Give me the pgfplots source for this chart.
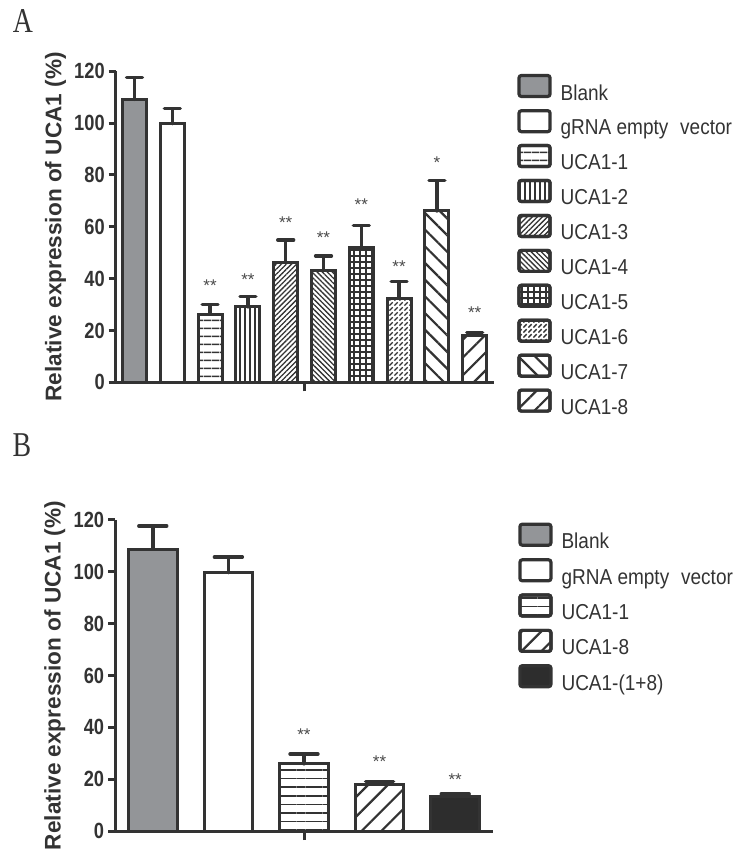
\documentclass[border=0pt]{standalone}
\usepackage{pgfplots}
\pgfplotsset{compat=1.18}
\usetikzlibrary{patterns.meta}
\usepackage{fontspec}
\setmainfont{Liberation Sans}
\newfontfamily\legfont{Liberation Sans}[FakeStretch=0.88]
\newfontfamily\tickfont{Liberation Sans}[FakeStretch=0.83]
\newfontfamily\panelfont{Liberation Serif}[FakeStretch=0.8]
\definecolor{barc}{HTML}{333333}
\definecolor{blankfill}{HTML}{939598}
\definecolor{darkfill}{HTML}{2D2D2D}
\definecolor{starc}{HTML}{4A4A4A}
\tikzdeclarepattern{
  name=brokenNE, type=uncolored,
  bottom left={(0pt,0pt)}, top right={(2.4pt,2.4pt)},
  tile size={(2.4pt,2.4pt)},
  code={
    \draw[line width=0.7pt] (0.2pt,0.2pt) -- (1.9pt,1.9pt);
  }
}
\pgfplotsset{
 prismaxis/.style={
  scale only axis, width=189pt, height=155.5pt,
  ymin=0, ymax=120, ytick={0,20,...,120},
  axis x line=bottom, axis y line=left,
  axis line style={-, line width=1.5pt, draw=barc},
  tick align=outside, tick style={line width=1.5pt, draw=barc},
  ytick style={/pgfplots/major tick length=3.5pt},
  xtick style={/pgfplots/major tick length=4.5pt},
  /pgf/number format/assume math mode=true,
  yticklabel style={font=\fontsize{11pt}{12pt}\tickfont\bfseries, text=barc, inner sep=1pt},
  ylabel={Relative expression of UCA1 (\%)},
  ylabel style={at={(axis description cs:-0.159,0.5)}, anchor=center, font=\fontsize{11.3pt}{13pt}\selectfont\bfseries, text=barc},
  clip=false,
  legend cell align=left,
  legend style={draw=none, fill=none, inner sep=0pt, font=\fontsize{10.8pt}{13pt}\legfont, text=barc, nodes={inner sep=0pt}, /tikz/every odd column/.append style={column sep=4.5pt}},
 },
 barst/.style={ybar, bar shift=0pt, draw=barc, line width=1.5pt,
   legend image code/.code={\draw[##1, line width=1.6pt, rounded corners=1.2pt] (0pt,-1.35pt) rectangle (15.5pt,9.15pt);}},
 errline/.style={forget plot, draw=barc, line width=1.7pt, mark=none, line cap=round, line join=round},
 stars/.style={forget plot, draw=none, mark=none, nodes near coords, point meta=explicit symbolic,
   nodes near coords align={center},
   every node near coord/.append style={anchor=center, font=\fontsize{8.5pt}{9pt}\selectfont, text=starc}},
}
\begin{document}
\begin{tikzpicture}
\useasboundingbox (0,0) rectangle (368pt,428pt);
\node[font=\fontsize{17.4pt}{19pt}\panelfont, text=barc] at (11.5pt,417.25pt) {A};
\node[font=\fontsize{17.4pt}{19pt}\panelfont, text=barc] at (11pt,205.25pt) {B};
% Panel A
\begin{axis}[prismaxis, at={(57.8pt,236.85pt)}, anchor=south west,
  xmin=0.5, xmax=10.5, xtick={5.5}, xticklabels={}, bar width=12pt,
  legend style={at={(axis description cs:1.062,0.993)}, anchor=north west, row sep=3.0pt}]
\addplot[barst, fill=blankfill] coordinates {(1,109.1)};
\addlegendentry{Blank}
\addplot[barst, fill=white] coordinates {(2,99.8)};
\addlegendentry{gRNA empty\hspace{0.55em}vector}
\addplot[barst, fill=white, postaction={pattern={Lines[angle=0,distance=4pt,line width=0.8pt]}, pattern color=barc}] coordinates {(3,26.3)};
\addlegendentry{UCA1-1}
\addplot[barst, fill=white, postaction={pattern={Lines[angle=90,distance=2.5pt,line width=0.7pt]}, pattern color=barc}] coordinates {(4,29.1)};
\addlegendentry{UCA1-2}
\addplot[barst, fill=white, postaction={pattern={Lines[angle=45,distance=1.8pt,line width=0.65pt]}, pattern color=barc}] coordinates {(5,46.1)};
\addlegendentry{UCA1-3}
\addplot[barst, fill=white, postaction={pattern={Lines[angle=-45,distance=1.8pt,line width=0.65pt]}, pattern color=barc}] coordinates {(6,43.0)};
\addlegendentry{UCA1-4}
\addplot[barst, fill=white, postaction={pattern={Hatch[angle=0,distance=3pt,line width=0.65pt]}, pattern color=barc}] coordinates {(7,52.0)};
\addlegendentry{UCA1-5}
\addplot[barst, fill=white, postaction={pattern=brokenNE, pattern color=barc}] coordinates {(8,32.4)};
\addlegendentry{UCA1-6}
\addplot[barst, fill=white, postaction={pattern={Lines[angle=-45,distance=5.9pt,line width=1.1pt]}, pattern color=barc}] coordinates {(9,66.1)};
\addlegendentry{UCA1-7}
\addplot[barst, fill=white, postaction={pattern={Lines[angle=45,distance=6.3pt,line width=1.1pt]}, pattern color=barc}] coordinates {(10,18.2)};
\addlegendentry{UCA1-8}
% error bars (value -> value+SD, with cap)
\addplot[errline] coordinates {(1,109.1) (1,117.6) (0.79,117.6) (1.21,117.6)};
\addplot[errline] coordinates {(2,99.8) (2,105.6) (1.79,105.6) (2.21,105.6)};
\addplot[errline] coordinates {(3,26.3) (3,30.0) (2.79,30.0) (3.21,30.0)};
\addplot[errline] coordinates {(4,29.1) (4,33.0) (3.79,33.0) (4.21,33.0)};
\addplot[errline] coordinates {(5,46.1) (5,54.9) (4.79,54.9) (5.21,54.9)};
\addplot[errline] coordinates {(6,43.0) (6,48.8) (5.79,48.8) (6.21,48.8)};
\addplot[errline] coordinates {(7,52.0) (7,60.6) (6.79,60.6) (7.21,60.6)};
\addplot[errline] coordinates {(8,32.4) (8,39.0) (7.79,39.0) (8.21,39.0)};
\addplot[errline] coordinates {(9,66.1) (9,77.9) (8.79,77.9) (9.21,77.9)};
\addplot[errline] coordinates {(10,18.2) (10,19.3) (9.79,19.3) (10.21,19.3)};
\addplot[stars] coordinates {(3,37.1) [**] (4,39.7) [**] (5,61.7) [**] (6,55.7) [**] (7,68.7) [**] (8,44.8) [**] (9,84.7) [*] (10,27) [**]};
\end{axis}
% Panel B
\begin{axis}[prismaxis, at={(57.5pt,12.5pt)}, anchor=south west,
  xmin=0.5, xmax=5.5, xtick={3}, xticklabels={}, bar width=24.25pt,
  legend style={at={(axis description cs:1.066,0.993)}, anchor=north west, row sep=3.2pt}]
\addplot[barst, fill=blankfill] coordinates {(1,108.8)};
\addlegendentry{Blank}
\addplot[barst, fill=white] coordinates {(2,99.7)};
\addlegendentry{gRNA empty\hspace{0.55em}vector}
\addplot[barst, fill=white, postaction={pattern={Lines[angle=0,distance=4.3pt,line width=0.8pt]}, pattern color=barc}] coordinates {(3,25.9)};
\addlegendentry{UCA1-1}
\addplot[barst, fill=white, postaction={pattern={Lines[angle=45,distance=7pt,line width=1.1pt]}, pattern color=barc}] coordinates {(4,18.1)};
\addlegendentry{UCA1-8}
\addplot[barst, fill=darkfill] coordinates {(5,13.2)};
\addlegendentry{UCA1-(1+8)}
\addplot[errline] coordinates {(1,108.8) (1,117.7) (0.815,117.7) (1.185,117.7)};
\addplot[errline] coordinates {(2,99.7) (2,105.7) (1.815,105.7) (2.185,105.7)};
\addplot[errline] coordinates {(3,25.9) (3,29.7) (2.815,29.7) (3.185,29.7)};
\addplot[errline] coordinates {(4,18.1) (4,19.0) (3.815,19.0) (4.185,19.0)};
\addplot[errline] coordinates {(5,13.2) (5,14.3) (4.815,14.3) (5.185,14.3)};
\addplot[stars] coordinates {(3,37) [**] (4,26.7) [**] (5,19.7) [**]};
\end{axis}
\end{tikzpicture}
\end{document}
